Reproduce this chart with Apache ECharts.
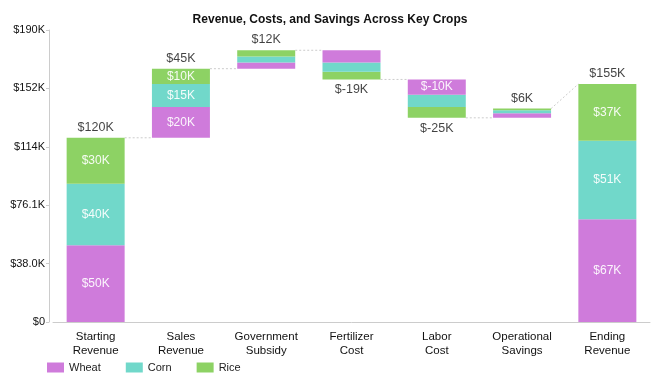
<!DOCTYPE html>
<html>
<head>
<meta charset="utf-8">
<script src="https://cdn.jsdelivr.net/npm/echarts@6/dist/echarts.min.js"></script>
<style>html,body{margin:0;padding:0;background:#fff}#c{width:660px;height:380px}</style>
</head>
<body>
<div id="c"></div>
<script>
// ---- data (thousands of dollars) ----
const categories = ['Starting\nRevenue', 'Sales\nRevenue', 'Government\nSubsidy', 'Fertilizer\nCost', 'Labor\nCost', 'Operational\nSavings', 'Ending\nRevenue'];
const stepKind = ['total', 'delta', 'delta', 'delta', 'delta', 'delta', 'total'];
const wheatK = [50, 20, 4, -8, -10, 3, 67];
const cornK = [40, 15, 4, -6, -8, 2, 51];
const riceK = [30, 10, 4, -5, -7, 1, 37];
const changeK = [120, 45, 12, -19, -25, 6, 155];
const yMaxK = 190.2;
const yStepK = 38.04;

const K = 1000;
const FONT = "'Liberation Sans', Arial, sans-serif";
const colors = { wheat: '#CF7BDB', corn: '#71D8CA', rice: '#8DD264' };

// ---- derived waterfall geometry ----
const base = [], endLevel = [];
let running = 0;
for (let i = 0; i < changeK.length; i++) {
  if (stepKind[i] === 'total') {
    base.push(0); running = changeK[i]; endLevel.push(running);
  } else if (changeK[i] >= 0) {
    base.push(running); running += changeK[i]; endLevel.push(running);
  } else {
    running += changeK[i]; base.push(running); endLevel.push(running);
  }
}
const pos = (arr) => arr.map(v => v >= 0 ? v * K : 0);
const neg = (arr) => arr.map(v => v < 0 ? -v * K : 0);

const segLabel = (arr) => ({
  show: true, position: 'inside', color: 'rgba(255,255,255,0.92)', fontSize: 12, fontFamily: FONT,
  formatter: p => (p.value > 0 && Math.abs(arr[p.dataIndex]) >= 10) ? '$' + arr[p.dataIndex] + 'K' : ''
});

const totalLabels = changeK.map((v, i) => ({
  value: [i, endLevel[i] * K],
  label: { show: true, position: v >= 0 ? 'top' : 'bottom', distance: 4,
           formatter: '$' + v + 'K', color: '#111', fontSize: 12.5, fontFamily: FONT }
}));

const connectors = [];
for (let i = 0; i < changeK.length - 1; i++) {
  const y1 = endLevel[i];
  const y2 = stepKind[i + 1] === 'total' ? changeK[i + 1] : endLevel[i];
  connectors.push([i, y1 * K, y2 * K]);
}

function fmtAxis(v) {
  if (v === 0) return '$0';
  const k = v / K;
  return '$' + (k < 100 ? k.toFixed(1) : Math.round(k)) + 'K';
}

const barCommon = { type: 'bar', stack: 'w', barWidth: '68%' };

const chart = echarts.init(document.getElementById('c'), null, { renderer: 'canvas' });
chart.setOption({
  animation: false,
  textStyle: { fontFamily: FONT },
  title: {
    text: 'Revenue, Costs, and Savings Across Key Crops', left: 'center', top: 9,
    textStyle: { fontSize: 12, fontWeight: 'bold', color: '#111', fontFamily: FONT }
  },
  legend: {
    data: ['Wheat', 'Corn', 'Rice'], left: 42, top: 357, icon: 'rect',
    itemWidth: 17, itemHeight: 10, itemGap: 25,
    textStyle: { fontSize: 11, color: '#222', fontFamily: FONT }
  },
  grid: { left: 53, right: 10, top: 30, bottom: 58 },
  xAxis: {
    type: 'category', data: categories,
    axisLine: { lineStyle: { color: '#ccc' } },
    axisTick: { alignWithLabel: true, length: 4, lineStyle: { color: '#ccc' } },
    axisLabel: { color: '#111', fontSize: 11.5, lineHeight: 14, margin: 8, interval: 0, fontFamily: FONT }
  },
  yAxis: {
    type: 'value', min: 0, max: yMaxK * K, interval: yStepK * K, offset: 4,
    axisLine: { show: true, lineStyle: { color: '#ccc' } },
    axisTick: { show: true, length: 3, lineStyle: { color: '#ccc' } },
    splitLine: { show: false },
    axisLabel: { color: '#111', fontSize: 11, margin: 4, formatter: fmtAxis, fontFamily: FONT }
  },
  series: [
    Object.assign({}, barCommon, { name: 'base', data: base.map(v => v * K),
      itemStyle: { color: 'transparent' }, silent: true }),
    Object.assign({}, barCommon, { name: 'Rice', data: neg(riceK), itemStyle: { color: colors.rice }, label: segLabel(riceK) }),
    Object.assign({}, barCommon, { name: 'Corn', data: neg(cornK), itemStyle: { color: colors.corn }, label: segLabel(cornK) }),
    Object.assign({}, barCommon, { name: 'Wheat', data: wheatK.map(v => Math.abs(v) * K), itemStyle: { color: colors.wheat }, label: segLabel(wheatK) }),
    Object.assign({}, barCommon, { name: 'Corn', data: pos(cornK), itemStyle: { color: colors.corn }, label: segLabel(cornK) }),
    Object.assign({}, barCommon, { name: 'Rice', data: pos(riceK), itemStyle: { color: colors.rice }, label: segLabel(riceK) }),
    {
      type: 'scatter', name: 'totals', symbolSize: 0, silent: true, data: totalLabels, z: 5
    },
    {
      type: 'custom', name: 'connectors', silent: true, z: 1,
      data: connectors,
      renderItem: function (params, api) {
        const i = api.value(0);
        const band = api.size([1, 0])[0];
        const half = band * 0.34;
        const p1 = api.coord([i, api.value(1)]);
        const p2 = api.coord([i + 1, api.value(2)]);
        return {
          type: 'line',
          shape: { x1: p1[0] + half, y1: p1[1], x2: p2[0] - half, y2: p2[1] },
          style: { stroke: '#ccc', lineWidth: 1, lineDash: [2, 2] }
        };
      }
    }
  ]
});
</script>
</body>
</html>
